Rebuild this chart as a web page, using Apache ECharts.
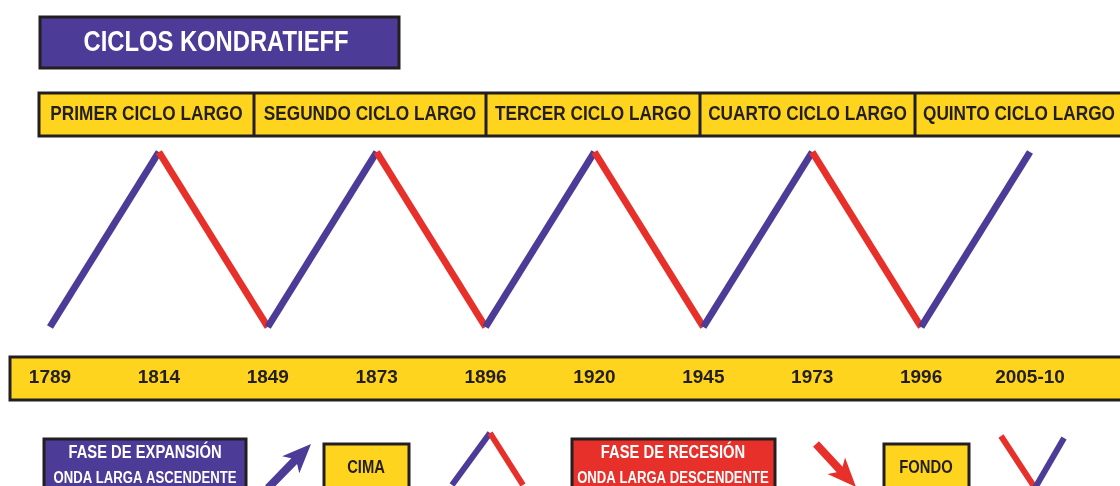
<!DOCTYPE html>
<html>
<head>
<meta charset="utf-8">
<title>Ciclos Kondratieff</title>
<script src="https://cdn.jsdelivr.net/npm/echarts@6/dist/echarts.min.js"></script>
<style>
    html, body { margin: 0; padding: 0; background: #fff; }
    #chart { width: 1120px; height: 486px; }
</style>
</head>
<body>
<div id="chart"></div>
<script>
    // datos
    const years = ['1789', '1814', '1849', '1873', '1896', '1920', '1945', '1973', '1996', '2005-10']
    const waveLevel = [0, 1, 0, 1, 0, 1, 0, 1, 0, 1]   // 0 = fondo, 1 = cima
    const cycleNames = ['PRIMER CICLO LARGO', 'SEGUNDO CICLO LARGO', 'TERCER CICLO LARGO', 'CUARTO CICLO LARGO', 'QUINTO CICLO LARGO']
    const titleText = 'CICLOS KONDRATIEFF'
    const expansionText = ['FASE DE EXPANSIÓN', 'ONDA LARGA ASCENDENTE']
    const recessionText = ['FASE DE RECESIÓN', 'ONDA LARGA DESCENDENTE']
    const peakText = 'CIMA'
    const troughText = 'FONDO'

    const PURPLE = '#4c3b97'
    const RED = '#e8302a'
    const YELLOW = '#ffd41e'
    const DARK = '#231f20'
    const FONT = "'Liberation Sans', Arial, sans-serif"
    const NARROW = 0.82   // Arial Narrow ~ Arial al 82 %

    let myChart = echarts.init(document.getElementById('chart'))

    // una serie por tramo, azul si sube y rojo si baja
    let series = []
    for (let i = 0; i < waveLevel.length - 1; i++) {
        let data = waveLevel.map((v, j) => (j === i || j === i + 1) ? v : null)
        series.push({
            type: 'line',
            data: data,
            showSymbol: false,
            silent: true,
            z: 3,
            lineStyle: {
                width: 7,
                cap: 'butt',
                color: waveLevel[i + 1] > waveLevel[i] ? PURPLE : RED
            }
        })
    }

    function box(x, y, w, h, fill) {
        return {
            type: 'rect',
            shape: { x: x, y: y, width: w, height: h },
            style: { fill: fill, stroke: DARK, lineWidth: 3 },
            z: 0
        }
    }

    function label(text, x, y, size, color, align) {
        return {
            type: 'text',
            x: x, y: y,
            scaleX: NARROW,
            style: {
                text: text,
                fill: color,
                font: 'bold ' + size + 'px ' + FONT,
                textAlign: align || 'center',
                textVerticalAlign: 'middle'
            },
            z: 1
        }
    }

    function segment(x1, y1, x2, y2, color, w) {
        return {
            type: 'line',
            shape: { x1: x1, y1: y1, x2: x2, y2: y2 },
            style: { stroke: color, lineWidth: w || 6, lineCap: 'butt' },
            z: 1
        }
    }

    function arrow(tx, ty, hx, hy, color) {
        let len = Math.hypot(hx - tx, hy - ty)
        let ux = (hx - tx) / len, uy = (hy - ty) / len
        let nx = -uy, ny = ux
        let sh = 4, hh = 12, hl = 24, notch = 5
        let bx = hx - ux * hl, by = hy - uy * hl
        return {
            type: 'polygon',
            shape: {
                points: [
                    [tx + nx * sh, ty + ny * sh],
                    [bx + nx * sh, by + ny * sh],
                    [bx + nx * hh - ux * notch, by + ny * hh - uy * notch],
                    [hx, hy],
                    [bx - nx * hh - ux * notch, by - ny * hh - uy * notch],
                    [bx - nx * sh, by - ny * sh],
                    [tx - nx * sh, ty - ny * sh]
                ]
            },
            style: { fill: color },
            z: 1
        }
    }

    // cabecera de ciclos
    let cycleCuts = [39, 254, 486, 700, 915, 1125]
    let graphics = [
        box(40, 17, 359, 51, PURPLE),
        label(titleText, 216, 43, 29, '#fff'),
        box(39, 93, 1090, 43, YELLOW),
        box(10, 357, 1120, 43, YELLOW)
    ]
    for (let i = 0; i < cycleNames.length; i++) {
        if (i > 0) {
            graphics.push(segment(cycleCuts[i], 93, cycleCuts[i], 136, DARK, 3))
        }
        let last = i === cycleNames.length - 1
        graphics.push(label(cycleNames[i], last ? cycleCuts[i] + 8 : (cycleCuts[i] + cycleCuts[i + 1]) / 2, 114, 21, DARK, last ? 'left' : 'center'))
    }

    // leyenda inferior
    graphics.push(
        box(44, 439, 202, 60, PURPLE),
        label(expansionText[0], 145, 453, 18, '#fff'),
        label(expansionText[1], 145, 479, 16, '#fff'),
        arrow(268, 488, 311, 444, PURPLE),
        box(324, 444, 85, 50, YELLOW),
        label(peakText, 366, 468, 18, DARK),
        segment(452, 485, 490, 433, PURPLE),
        segment(490, 433, 523, 485, RED),
        box(572, 439, 203, 60, RED),
        label(recessionText[0], 673, 453, 18, '#fff'),
        label(recessionText[1], 673, 479, 16, '#fff'),
        arrow(816, 444, 856, 487, RED),
        box(884, 444, 85, 50, YELLOW),
        label(troughText, 926, 468, 18, DARK),
        segment(1001, 436, 1035, 488, RED),
        segment(1035, 488, 1064, 438, PURPLE)
    )

    let option = {
        animation: false,
        grid: { left: 50, right: 90, top: 152, bottom: 159 },
        xAxis: {
            type: 'category',
            data: years,
            boundaryGap: false,
            z: 5,
            axisLine: { show: false },
            axisTick: { show: false },
            splitLine: { show: false },
            axisLabel: {
                interval: 0,
                margin: 51,
                verticalAlign: 'middle',
                color: DARK,
                fontSize: 19,
                fontWeight: 'bold',
                fontFamily: FONT
            }
        },
        yAxis: {
            type: 'value',
            min: 0,
            max: 1,
            show: false
        },
        graphic: graphics,
        series: series
    }

    myChart.setOption(option)
</script>
</body>
</html>
